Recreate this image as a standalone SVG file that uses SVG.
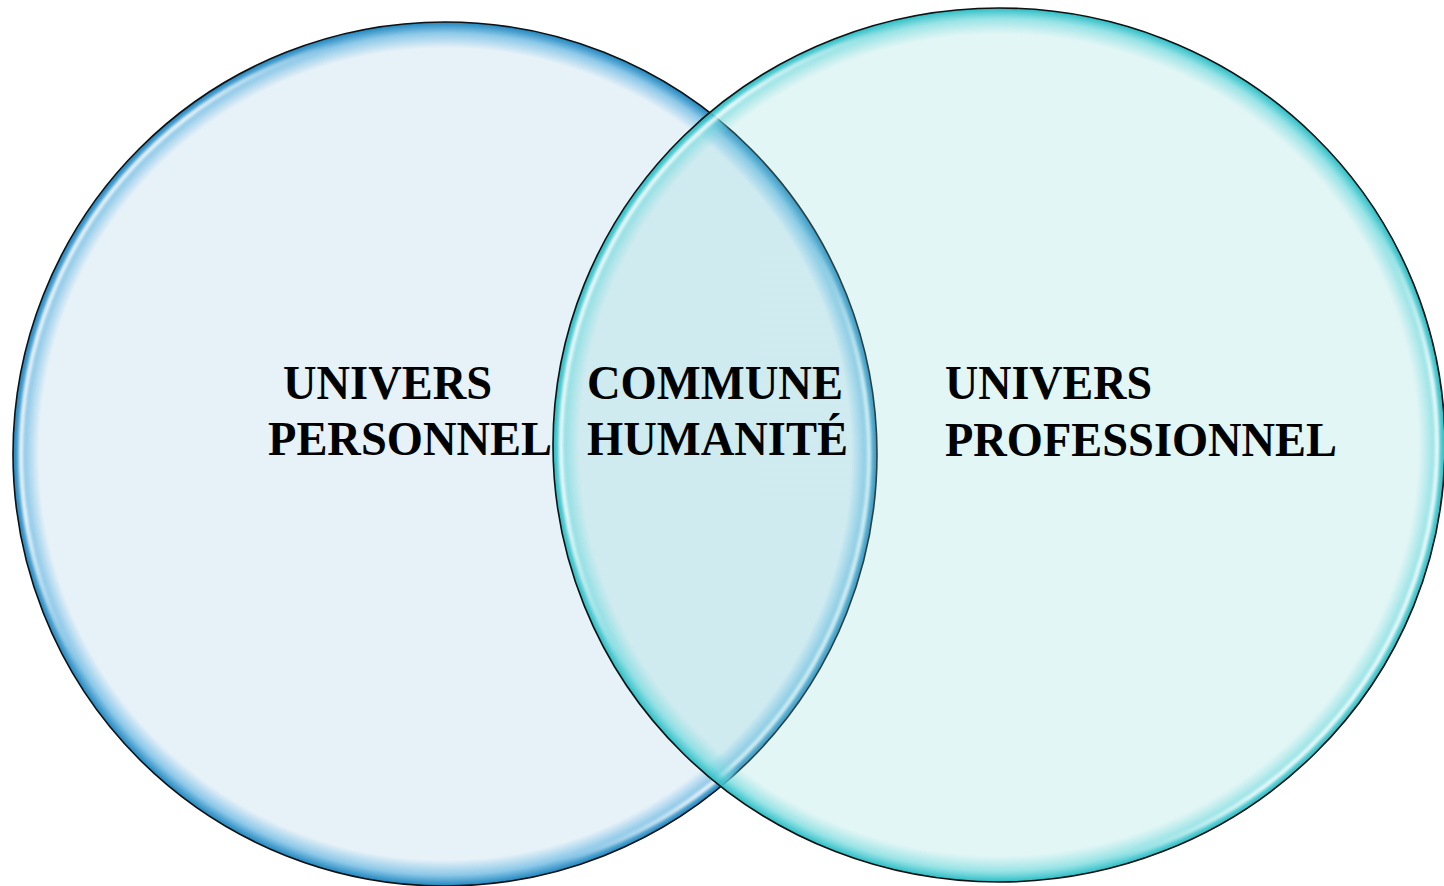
<svg xmlns="http://www.w3.org/2000/svg" width="1444" height="886" viewBox="0 0 1444 886">
  <defs>
    <radialGradient id="rimL" cx="0.5" cy="0.5" r="0.5">
      <stop offset="0" stop-color="#E6F1F8"/>
      <stop offset="0.94" stop-color="#E6F1F8"/>
      <stop offset="0.975" stop-color="#8CC8E8"/>
      <stop offset="1" stop-color="#1F86BF"/>
    </radialGradient>
    <radialGradient id="rimR" cx="0.5" cy="0.5" r="0.5">
      <stop offset="0" stop-color="rgb(134,217,217)" stop-opacity="0.24"/>
      <stop offset="0.94" stop-color="rgb(134,217,217)" stop-opacity="0.24"/>
      <stop offset="0.975" stop-color="#6ED8DC" stop-opacity="0.7"/>
      <stop offset="1" stop-color="#27BCC4" stop-opacity="1"/>
    </radialGradient>
    <linearGradient id="hl" x1="0" y1="0.3" x2="1" y2="0.7">
      <stop offset="0" stop-color="#FFFFFF" stop-opacity="0.9"/>
      <stop offset="0.1" stop-color="#FFFFFF" stop-opacity="0.9"/>
      <stop offset="0.22" stop-color="#FFFFFF" stop-opacity="0"/>
      <stop offset="0.78" stop-color="#FFFFFF" stop-opacity="0"/>
      <stop offset="0.9" stop-color="#FFFFFF" stop-opacity="0.9"/>
      <stop offset="1" stop-color="#FFFFFF" stop-opacity="0.9"/>
    </linearGradient>
    <filter id="soft" x="-5%" y="-5%" width="110%" height="110%">
      <feGaussianBlur stdDeviation="1.5"/>
    </filter>
  </defs>
  <style>
    .outline { fill: none; stroke: #111; stroke-width: 1.6; }
    .hl { fill: none; stroke: url(#hl); stroke-width: 4; filter: url(#soft); }
    .lbl { font-family: "Liberation Serif", "Times New Roman", serif; font-weight: bold; font-size: 48px; fill: #000; }
  </style>

  <g id="left-circle">
    <circle cx="445" cy="454" r="432" fill="url(#rimL)"/>
    <circle class="hl" cx="445" cy="454" r="424"/>
    <circle class="outline" cx="445" cy="454" r="432"/>
  </g>

  <g id="right-circle">
    <ellipse cx="999" cy="445" rx="446" ry="437" fill="url(#rimR)"/>
    <ellipse class="hl" cx="999" cy="445" rx="438" ry="429"/>
    <ellipse class="outline" cx="999" cy="445" rx="446" ry="437"/>
  </g>

  <g id="label-personnel">
    <text class="lbl" x="283" y="399" textLength="209" lengthAdjust="spacingAndGlyphs">UNIVERS</text>
    <text class="lbl" x="268" y="455" textLength="284" lengthAdjust="spacingAndGlyphs">PERSONNEL</text>
  </g>

  <g id="label-commune">
    <text class="lbl" x="587" y="399" textLength="256" lengthAdjust="spacingAndGlyphs">COMMUNE</text>
    <text class="lbl" x="587" y="455" textLength="261" lengthAdjust="spacingAndGlyphs">HUMANITÉ</text>
  </g>

  <g id="label-professionnel">
    <text class="lbl" x="945" y="399" textLength="207" lengthAdjust="spacingAndGlyphs">UNIVERS</text>
    <text class="lbl" x="945" y="456" textLength="392" lengthAdjust="spacingAndGlyphs">PROFESSIONNEL</text>
  </g>
</svg>
